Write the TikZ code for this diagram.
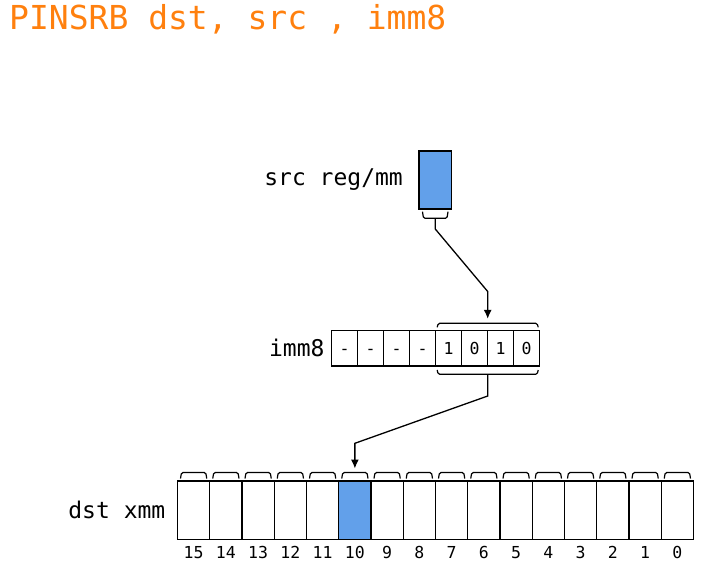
\documentclass[tikz,border=0pt]{standalone}
\usepackage{fontspec}
\setmonofont{DejaVu Sans Mono}
\usepackage{tikz}
\usetikzlibrary{calc,arrows.meta}
\usetikzlibrary{positioning}
\definecolor{insorange}{RGB}{255,128,14}
\definecolor{selblue}{RGB}{98,160,234}
\def\DstCell(#1)#2#3{%
  \begin{scope}[shift={(#1)}]
    \node[cell,anchor=north west,#3] (dst #2) at (0,0) {};
    \draw[bracket] (3,-2.5) -- (4,-8.5) -- (28.25,-8.5) -- (29.25,-2.5);
    \coordinate (dst #2 in) at (16.125,-8.5);
    \node[idx,anchor=base] (idx #2) at (16.125,77.3) {#2};
  \end{scope}
}

\begin{document}
\begin{tikzpicture}[x=1pt,y=-1pt,
    cell/.style={draw,line width=1.3pt,minimum width=32.25pt,minimum height=58.5pt,
      inner sep=0pt,outer sep=0pt},
    hl/.style={fill=selblue},
    bracket/.style={line width=1.2pt,rounded corners=1.5pt},
    idx/.style={font=\ttfamily\fontsize{16.5}{18}\selectfont,inner sep=0pt},
    lbl/.style={font=\ttfamily\fontsize{23}{26}\selectfont,inner sep=0pt},
    immcell/.style={draw,line width=1.3pt,minimum width=26pt,minimum height=35.3pt,
      inner sep=0pt,outer sep=0pt,text height=12pt,text depth=0pt,
      font=\ttfamily\fontsize{16.5}{18}\selectfont},
    link/.style={line width=1.3pt},
    >={Latex[length=9pt,width=8pt]}]
  \useasboundingbox (0,0) rectangle (710,568);
  % Title
  \node[anchor=base west,text=insorange,inner sep=0pt,
    font=\ttfamily\fontsize{33}{36}\selectfont] (title) at (9,29.3)
    {PINSRB dst, src , imm8};
  % Source register
  \node[cell,hl,minimum width=32.5pt,minimum height=58pt] (src) at (435.25,180) {};
  \node[lbl,left=16pt of src] (src label) {src reg/mm};
  \draw[bracket] ($(src.south west)+(3.5,2.7)$) -- ++(1,6.6)
    -- ($(src.south east)+(-4.5,9.3)$) -- ++(1,-6.6);
  \coordinate (src out) at ($(src.south)+(0,9.3)$);
  % The imm8 byte
  \node[immcell] (imm 7) at (344.7,348.35) {-};
  \node[immcell,right=0pt of imm 7] (imm 6) {-};
  \node[immcell,right=0pt of imm 6] (imm 5) {-};
  \node[immcell,right=0pt of imm 5] (imm 4) {-};
  \node[immcell,right=0pt of imm 4] (imm 3) {1};
  \node[immcell,right=0pt of imm 3] (imm 2) {0};
  \node[immcell,right=0pt of imm 2] (imm 1) {1};
  \node[immcell,right=0pt of imm 1] (imm 0) {0};
  \node[lbl,left=7pt of imm 7] (imm label) {imm8};
  \draw[bracket] ($(imm 3.north west)+(1.5,-3.4)$) -- ++(1,-4)
    -- ($(imm 0.north east)+(-2.5,-7.4)$) -- ++(1,4);
  \coordinate (imm in) at ($(imm 3.north west)!0.5!(imm 0.north east)+(0,-7.4)$);
  \draw[bracket] ($(imm 3.south west)+(1.5,4)$) -- ++(1,4.3)
    -- ($(imm 0.south east)+(-2.5,8.3)$) -- ++(1,-4.3);
  \coordinate (imm out) at ($(imm 3.south west)!0.5!(imm 0.south east)+(0,8.3)$);
  % Destination register, byte 15 on the left
  \DstCell(177.5,481){15}{}
  \DstCell(209.75,481){14}{}
  \DstCell(242,481){13}{}
  \DstCell(274.25,481){12}{}
  \DstCell(306.5,481){11}{}
  \DstCell(338.75,481){10}{hl}
  \DstCell(371,481){9}{}
  \DstCell(403.25,481){8}{}
  \DstCell(435.5,481){7}{}
  \DstCell(467.75,481){6}{}
  \DstCell(500,481){5}{}
  \DstCell(532.25,481){4}{}
  \DstCell(564.5,481){3}{}
  \DstCell(596.75,481){2}{}
  \DstCell(629,481){1}{}
  \DstCell(661.25,481){0}{}
  \node[lbl,left=12pt of dst 15] (dst label) {dst xmm};
  % Connections
  \draw[link,->,shorten >=4.5pt] (src out) -- ++(0,10.7)
    -- ($(imm in)+(0,-31.8)$) -- (imm in);
  \draw[link,->,shorten >=4pt] (imm out) -- ++(0,21.7)
    -- ($(dst 10 in)+(0,-29.2)$) -- (dst 10 in);
\end{tikzpicture}
\end{document}
